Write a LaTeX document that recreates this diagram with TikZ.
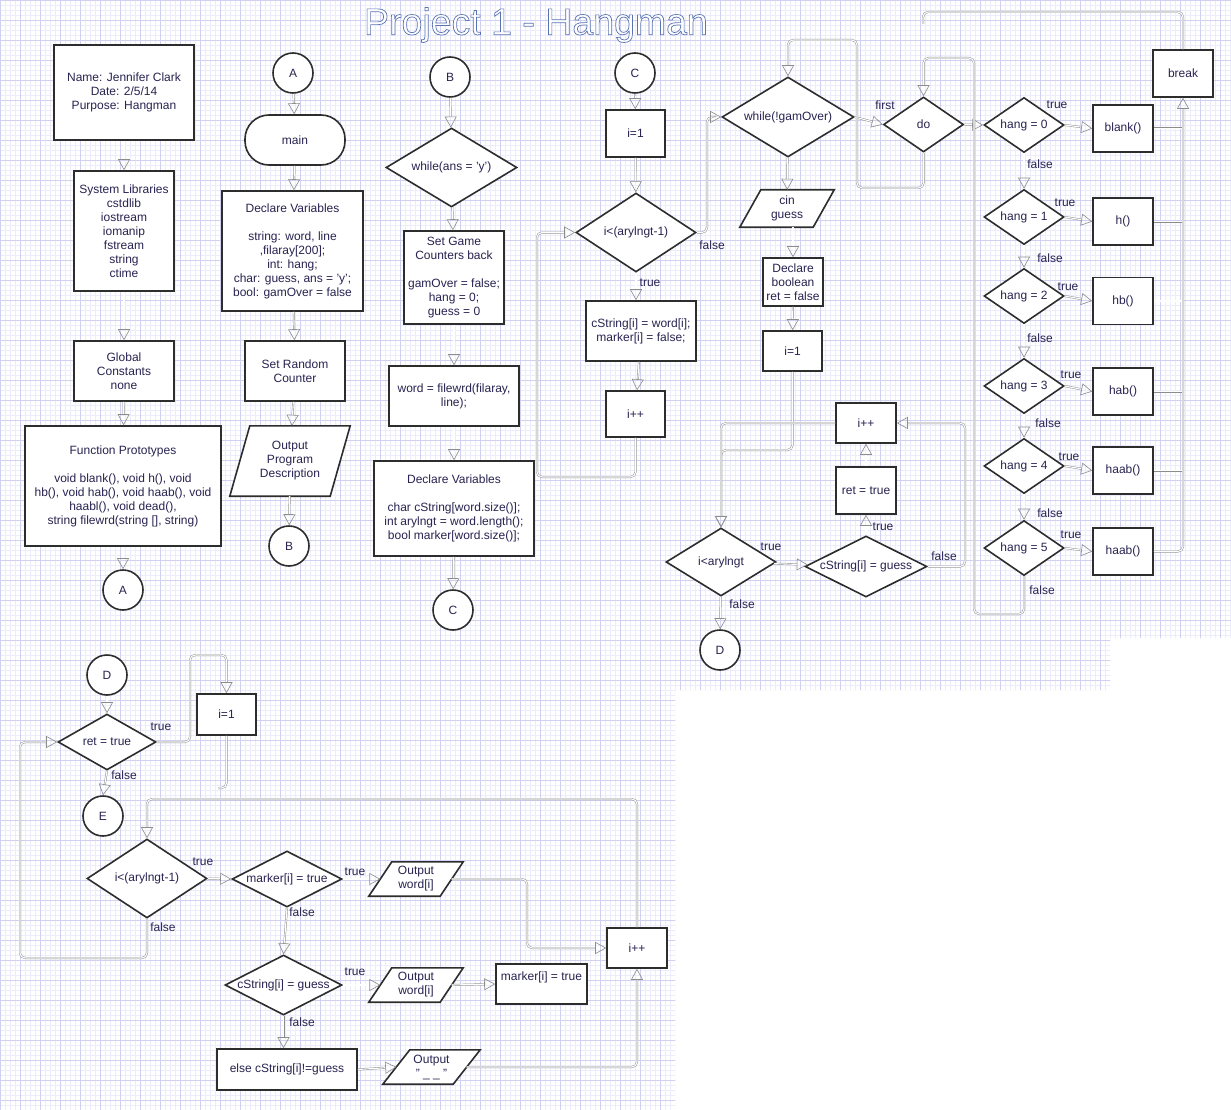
\documentclass[tikz,border=0pt]{standalone}
\usepackage{fontspec}
\setmainfont{Liberation Sans}
\usetikzlibrary{shapes.geometric,arrows.meta}
\definecolor{ink}{RGB}{40,35,80}
\definecolor{edge}{RGB}{45,45,45}
\definecolor{cn}{RGB}{140,140,140}
\definecolor{gmaj}{RGB}{208,208,240}
\definecolor{gmin}{RGB}{236,236,250}
\newcommand\mypara[2]{\draw[edge, line width=1.6pt, fill=white] ([xshift=#2]#1.north west) -- ([xshift=#2]#1.north east) -- ([xshift=-#2]#1.south east) -- ([xshift=-#2]#1.south west) -- cycle;}
\newcommand\zw[1]{\makebox[0pt]{#1}}
\begin{document}
\begin{tikzpicture}[x=1pt,y=-1pt,font=\fontsize{12}{14}\selectfont,
  box/.style={rectangle, draw=edge, line width=1.6pt, fill=white, align=center, text=ink, inner sep=1pt},
  term/.style={box, rounded corners=24pt},
  dia/.style={diamond, draw=edge, line width=1.6pt, fill=white, inner sep=0pt, text=ink},
  circ/.style={circle, draw=edge, line width=1.6pt, fill=white, minimum size=40pt, inner sep=0pt, text=ink},
  holder/.style={rectangle, inner sep=0pt, draw=none},
  ptext/.style={align=center, text=ink, inner sep=0pt},
  lbl/.style={text=ink, inner sep=0pt},
  cline/.style={draw=cn, line width=0.45pt, double=white, double distance=1.1pt, rounded corners=5pt},
  conn/.style={cline, -{Triangle[open, length=11pt, width=12pt, line width=0.6pt]}}
]
\useasboundingbox (0,0) rectangle (1231,1110);
\fill[white] (0,0) rectangle (1231,1110);
% grid
\begin{scope}
\clip (0,0) -- (1231,0) -- (1231,638) -- (1110,638) -- (1110,690) -- (675,690) -- (675,1110) -- (0,1110) -- cycle;
\foreach \k in {0,5,...,1230} \draw[gmin, line width=0.4pt] (\k,0) -- (\k,1110);
\foreach \k in {0,5,...,1110} \draw[gmin, line width=0.4pt] (0,\k) -- (1231,\k);
\foreach \k in {0,20,...,1230} \draw[gmaj, line width=0.5pt] (\k,0) -- (\k,1110);
\foreach \k in {0,20,...,1110} \draw[gmaj, line width=0.5pt] (0,\k) -- (1231,\k);
\end{scope}

% title
\node (title) at (536,25) {\fontsize{37.5}{40}\selectfont\color{white}\special{pdf:literal direct 2 Tr 0.7 w 0.35 0.45 0.7 RG}Project 1 - Hangman\special{pdf:literal direct 0 Tr}};

% column 1
\node[box, minimum width=140pt, minimum height=95pt] (info) at (124,92.5) {Name: Jennifer Clark\\Date: 2/5/14\\Purpose: Hangman};
\node[box, minimum width=100pt, minimum height=120pt] (syslib) at (124,231) {System Libraries\\cstdlib\\iostream\\iomanip\\fstream\\string\\ctime};
\node[box, minimum width=100pt, minimum height=60pt] (glob) at (124,371) {Global\\Constants\\none};
\node[box, minimum width=196pt, minimum height=120pt] (proto) at (123,486) {Function Prototypes\\[14pt]void blank(), void h(), void\\hb(), void hab(), void haab(), void\\haabl(), void dead(),\\string filewrd(string [], string)};
\node[circ] (cA1) at (123,590) {A};

% column 2
\node[circ] (cA2) at (293,73) {A};
\node[term, minimum width=100pt, minimum height=50pt] (main) at (295,140) {main};
\node[box, minimum width=141pt, minimum height=120pt] (decl1) at (292.5,251) {Declare Variables\\[14pt]string: word, line\\,filaray[200];\\int: hang;\\char: guess, ans = 'y';\\bool: gamOver = false};
\node[box, minimum width=100pt, minimum height=60pt] (rnd) at (295,371) {Set Random\\Counter};
\node[holder, minimum width=100pt, minimum height=70pt] (outp) at (290,461) {};
\mypara{outp}{10pt}
\node[ptext] (outp-t) at (outp) {Output\\Program\\Description};
\node[circ] (cB1) at (289,546) {B};

% column 3
\node[circ] (cB2) at (450,77) {B};
\node[dia, minimum width=131pt, minimum height=79pt] (wans) at (451.5,167.5) {\zw{while(ans = 'y')}};
\node[box, minimum width=100pt, minimum height=93pt] (setg) at (454,277.5) {Set Game\\Counters back\\[14pt]gamOver = false;\\hang = 0;\\guess = 0};
\node[box, minimum width=130pt, minimum height=60pt] (fw) at (454,396) {word = filewrd(filaray,\\line);};
\node[box, minimum width=160pt, minimum height=95pt] (decl2) at (454,508.5) {Declare Variables\\[14pt]char cString[word.size()];\\int arylngt = word.length();\\bool marker[word.size()];};
\node[circ] (cC1) at (453,610) {C};

% column 4
\node[circ] (cC2) at (635,73) {C};
\node[box, minimum width=59pt, minimum height=47pt] (i1a) at (635.5,133.5) {i=1};
\node[dia, minimum width=120pt, minimum height=79pt] (dA) at (636,232.5) {\zw{i<(arylngt-1)}};
\node[box, minimum width=110pt, minimum height=60pt] (cs) at (641,331) {cString[i] = word[i];\\marker[i] = false;};
\node[box, minimum width=59pt, minimum height=46pt] (ipa) at (635.5,414) {i++};

% column 5
\node[dia, minimum width=132pt, minimum height=80pt] (wgo) at (788,117) {\zw{while(!gamOver)}};
\node[holder, minimum width=73pt, minimum height=37pt] (cin) at (787,208.5) {};
\mypara{cin}{10.5pt}
\node[ptext] (cin-t) at (cin) {cin\\guess};
\node[box, minimum width=60pt, minimum height=48pt] (dbool) at (793,282) {Declare\\boolean\\ret = false};
\node[box, minimum width=59pt, minimum height=40pt] (i1b) at (792.5,351) {i=1};
\node[box, minimum width=60pt, minimum height=40pt] (ipb) at (866,423) {i++};
\node[box, minimum width=60pt, minimum height=47pt] (rett) at (866,490.5) {ret = true};
\node[dia, minimum width=122pt, minimum height=61pt] (dcs) at (866,566.5) {\zw{cString[i] = guess}};
\node[dia, minimum width=110pt, minimum height=68pt] (dlt) at (721,562) {\zw{i<arylngt}};
\node[circ] (cD1) at (720,650) {D};

% do / hang column
\node[dia, minimum width=80pt, minimum height=55pt] (do) at (923.5,124.5) {\zw{do}};
\node[dia, minimum width=80pt, minimum height=55pt] (h0) at (1024,125) {\zw{hang = 0}};
\node[dia, minimum width=80pt, minimum height=55pt] (h1) at (1024,217) {\zw{hang = 1}};
\node[dia, minimum width=80pt, minimum height=55pt] (h2) at (1024,296) {\zw{hang = 2}};
\node[dia, minimum width=80pt, minimum height=55pt] (h3) at (1024,386) {\zw{hang = 3}};
\node[dia, minimum width=80pt, minimum height=55pt] (h4) at (1024,466) {\zw{hang = 4}};
\node[dia, minimum width=80pt, minimum height=55pt] (h5) at (1024,548) {\zw{hang = 5}};
\node[box, minimum width=60pt, minimum height=47pt] (b0) at (1123,128.5) {blank()};
\node[box, minimum width=60pt, minimum height=47pt] (b1) at (1123,221.5) {h()};
\node[box, minimum width=60pt, minimum height=47pt] (b2) at (1123,301) {hb()};
\node[box, minimum width=60pt, minimum height=47pt] (b3) at (1123,391.5) {hab()};
\node[box, minimum width=60pt, minimum height=47pt] (b4) at (1123,470.5) {haab()};
\node[box, minimum width=60pt, minimum height=47pt] (b5) at (1123,551.5) {haab()};
\node[box, minimum width=60pt, minimum height=47pt] (brk) at (1183,73.5) {break};

% bottom section
\node[circ] (cD2) at (107,675) {D};
\node[dia, minimum width=98pt, minimum height=56pt] (dret) at (107,742) {\zw{ret = true}};
\node[box, minimum width=59pt, minimum height=41pt] (i1c) at (226.5,714.5) {i=1};
\node[circ] (cE1) at (103,816) {E};
\node[dia, minimum width=120pt, minimum height=79pt] (dB) at (147,878.5) {\zw{i<(arylngt-1)}};
\node[dia, minimum width=110pt, minimum height=56pt] (dmk) at (287,879) {\zw{marker[i] = true}};
\node[holder, minimum width=71pt, minimum height=34pt] (ow1) at (416,879) {};
\mypara{ow1}{11.5pt}
\node[ptext] (ow1-t) at (ow1) {Output\\word[i]};
\node[box, minimum width=60pt, minimum height=40pt] (ipc) at (637,948) {i++};
\node[dia, minimum width=117pt, minimum height=60pt] (dcs2) at (283.5,985) {\zw{cString[i] = guess}};
\node[holder, minimum width=71pt, minimum height=34pt] (ow2) at (416,985) {};
\mypara{ow2}{11.5pt}
\node[ptext] (ow2-t) at (ow2) {Output\\word[i]};
\node[box, minimum width=91pt, minimum height=40pt] (mkt) at (541.5,984) {marker[i] = true\\[2pt]\mbox{}};
\node[box, minimum width=140pt, minimum height=41pt] (els) at (287,1069.5) {else cString[i]!=guess};
\node[holder, minimum width=70pt, minimum height=34pt] (ow3) at (431.5,1067) {};
\mypara{ow3}{13.5pt}
\node[ptext] (ow3-t) at (ow3) {Output\\" \_ \_ "};

% connectors column 1-3
\draw[conn] (info) -- (syslib);
\draw[conn] (syslib) -- (glob);
\draw[conn] (glob) -- (proto);
\draw[conn] (proto.south) -- (cA1.north);
\draw[conn] (cA2) -- (main);
\draw[conn] (main) -- (decl1);
\draw[conn] (decl1) -- (rnd);
\draw[conn] (rnd) -- (outp);
\draw[conn] (outp) -- (cB1);
\draw[conn] (cB2) -- (wans);
\draw[conn] (wans) -- (setg);
\draw[conn] (setg) -- (fw);
\draw[conn] (fw) -- (decl2);
\draw[conn] (decl2) -- (cC1);

% column 4
\draw[conn] (cC2) -- (i1a);
\draw[conn] (i1a) -- (dA);
\draw[conn] (dA.south) -- (cs.north -| dA.south);
\draw[conn] (cs) -- (ipa);
\draw[conn] (ipa.south) -- (635.5,477) -- (537,477) -- (537,232.5) -- (dA.west);
\draw[conn] (dA.east) -- (707,232.5) -- (707,117) -- (wgo.west);

% column 5
\draw[conn] (wgo) -- (cin);
\draw[conn] (cin.south -| dbool.north) -- (dbool.north);
\draw[conn] (dbool) -- (i1b);
\draw[conn] (i1b.south) -- (792.5,450) -- (721,450) -- (dlt.north);
\draw[conn] (ipb.west) -- (721,423) -- (dlt.north);
\draw[conn] (dlt) -- (dcs);
\draw[conn] (dlt) -- (cD1);
\draw[conn] (dcs) -- (rett);
\draw[conn] (rett) -- (ipb);
\draw[conn] (dcs.east) -- (965,566.5) -- (965,423) -- (ipb.east);
\draw[conn] (wgo.east) -- (do.west);
\draw[conn] (do.south) -- (923.5,188) -- (857,188) -- (857,40) -- (788,40) -- (wgo.north);

% hang column
\draw[conn] (do.east) -- (h0.west);
\draw[conn] (h0) -- (h1);
\draw[conn] (h1) -- (h2);
\draw[conn] (h2) -- (h3);
\draw[conn] (h3) -- (h4);
\draw[conn] (h4) -- (h5);
\draw[conn] (h0.east) -- (b0.west);
\draw[conn] (h1.east) -- (b1.west);
\draw[conn] (h2.east) -- (b2.west);
\draw[conn] (h3.east) -- (b3.west);
\draw[conn] (h4.east) -- (b4.west);
\draw[conn] (h5.east) -- (b5.west);
\draw[cline] (b0.east) -- (1183,128.5);
\draw[cline] (b1.east) -- (1183,221.5);
\draw[cline] (b2.east) -- (1183,301);
\draw[cline] (b3.east) -- (1183,391.5);
\draw[cline] (b4.east) -- (1183,470.5);
\draw[conn] (b5.east) -- (1183,551.5) -- (brk.south);
\draw[conn] (h5.south) -- (1024,614) -- (974,614) -- (974,58) -- (923.5,58) -- (do.north);
\coordinate (brkend) at (923,24);
\draw[cline] (brk.north) -- (1183,12) -- (923,12) -- (brkend);

% bottom connectors
\draw[conn] (cD2) -- (dret);
\draw[conn] (dret.east) -- (190,742) -- (190,655) -- (226.5,655) -- (i1c.north);
\coordinate (i1end) at (218,788);
\draw[cline] (i1c.south) -- (226.5,788) -- (i1end);
\draw[conn] (dret.south) -- (cE1.north);
\draw[conn] (ipc.north) -- (637,799) -- (147,799) -- (dB.north);
\draw[conn] (dB.east) -- (dmk.west);
\draw[conn] (dB.south) -- (147,958) -- (20,958) -- (20,742) -- (dret.west);
\draw[conn] (dmk.east) -- (ow1.west);
\draw[conn] (dmk.south) -- (dcs2.north);
\draw[conn] (ow1.east) -- (527,879) -- (527,948) -- (ipc.west);
\draw[conn] (dcs2.east) -- (ow2.west);
\draw[conn] (ow2.east) -- (mkt.west);
\draw[conn] (dcs2.south) -- (els.north -| dcs2.south);
\draw[conn] (els.east) -- (ow3.west);
\draw[conn] (ow3.east) -- (637,1067) -- (ipc.south);

% labels
\node[lbl] (l1) at (650,283) {true};
\node[lbl] (l2) at (712,245) {false};
\node[lbl] (l3) at (885,105) {first};
\node[lbl] (l4) at (1057,105) {true};
\node[lbl] (l5) at (1040,164) {false};
\node[lbl] (l6) at (1065,203) {true};
\node[lbl] (l7) at (1050,258) {false};
\node[lbl] (l8) at (1068,287) {true};
\node[lbl] (l9) at (1040,338) {false};
\node[lbl] (l10) at (1071,375) {true};
\node[lbl] (l11) at (1048,423) {false};
\node[lbl] (l12) at (1069,457) {true};
\node[lbl] (l13) at (1050,513) {false};
\node[lbl] (l14) at (1071,535) {true};
\node[lbl] (l15) at (1042,590) {false};
\node[lbl] (l16) at (771,547) {true};
\node[lbl] (l17) at (742,604) {false};
\node[lbl] (l18) at (883,527) {true};
\node[lbl] (l19) at (944,556) {false};
\node[lbl] (l20) at (161,727) {true};
\node[lbl] (l21) at (124,775) {false};
\node[lbl] (l22) at (203,862) {true};
\node[lbl] (l23) at (163,927) {false};
\node[lbl] (l24) at (355,872) {true};
\node[lbl] (l25) at (302,912) {false};
\node[lbl] (l26) at (355,972) {true};
\node[lbl] (l27) at (302,1022) {false};
\end{tikzpicture}
\end{document}
